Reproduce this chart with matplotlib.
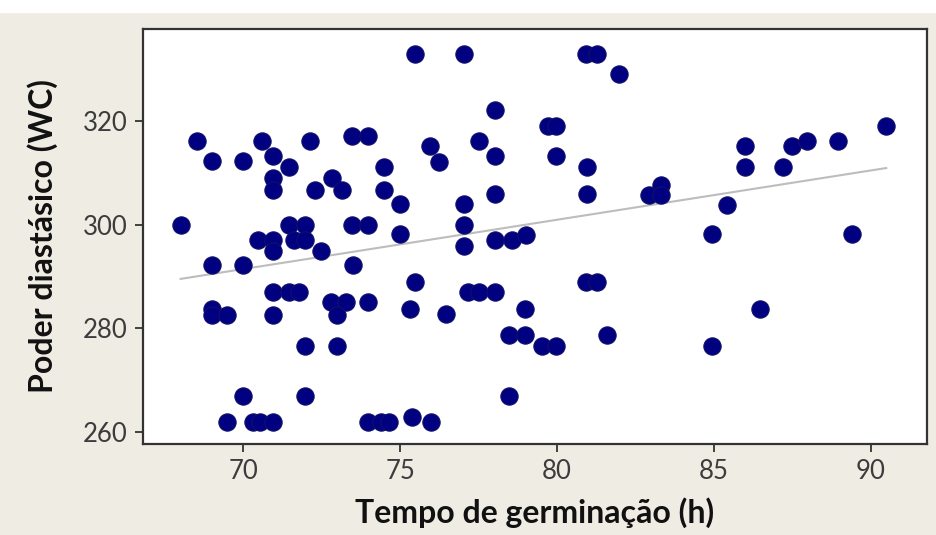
import matplotlib
matplotlib.use('Agg')
import matplotlib.pyplot as plt
import numpy as np

# Tempo de germinação (h) x Poder diastásico (WC)
tempo = [75.46, 77.03, 80.93, 81.28, 81.98, 78.02, 79.71, 79.97, 90.48,
         68.53, 70.58, 72.11, 73.48, 73.99, 75.94, 77.51, 86.0, 87.48, 87.96, 88.95,
         69.01, 70.0, 70.96, 71.47, 74.47, 76.25, 78.02, 79.97, 80.96, 86.0, 87.22,
         70.96, 70.96, 72.3, 72.84, 73.16, 74.47, 78.02, 80.96, 82.94, 83.32, 83.32,
         74.98, 77.03, 85.43,
         68.02, 71.47, 71.97, 73.48, 73.99, 77.03,
         74.98, 84.95, 89.42,
         70.48, 70.96, 71.6, 71.97, 77.03, 78.02, 78.56, 79.01,
         70.96, 72.49,
         69.01, 70.0, 73.51,
         75.46, 80.93, 81.28,
         70.96, 71.47, 71.76, 77.16, 77.51, 78.02,
         72.78, 73.26, 73.99, 73.0, 75.3, 69.01, 69.01, 69.49, 70.96, 76.45, 78.98, 86.49,
         78.47, 78.98, 81.6,
         71.97, 73.0, 79.52, 79.97, 84.95,
         70.0, 71.97, 78.47,
         69.49, 70.32, 70.54, 70.96, 73.99, 74.38, 74.63, 75.37, 75.97]
poder = [333, 333, 333, 333, 329.2, 322.2, 319.1, 319.1, 319.1,
         316.2, 316.2, 316.2, 317.2, 317.2, 315.2, 316.2, 315.2, 315.2, 316.2, 316.2,
         312.3, 312.3, 313.3, 311.2, 311.2, 312.2, 313.3, 313.3, 311.2, 311.2, 311.2,
         309.1, 306.8, 306.8, 309.1, 306.8, 306.8, 306.0, 306.0, 305.8, 307.7, 305.8,
         304.0, 304.0, 303.9,
         300.0, 300.0, 300.0, 300.0, 300.0, 300.0,
         298.3, 298.3, 298.3,
         297.0, 297.0, 297.0, 297.0, 295.9, 297.0, 297.0, 298.1,
         294.9, 295.0,
         292.3, 292.3, 292.3,
         289.0, 289.0, 289.0,
         287.1, 287.1, 287.1, 287.1, 287.1, 287.1,
         285.1, 285.1, 285.1, 282.6, 283.8, 283.8, 282.6, 282.6, 282.6, 282.7, 283.8, 283.8,
         278.8, 278.8, 278.8,
         276.6, 276.6, 276.6, 276.6, 276.6,
         267.0, 267.0, 267.0,
         262.0, 262.0, 262.0, 262.0, 262.0, 262.0, 262.0, 262.9, 262.0]

# reta de ajuste
intercepto = 224.9
inclinacao = 0.951
x_reta = [68.0, 90.5]

plt.rcParams['font.family'] = ['Lato', 'DejaVu Sans']

fig = plt.figure(figsize=(9.37, 5.35), dpi=100, facecolor='#efece4')
fig.add_artist(plt.Rectangle((0, 1 - 12 / 535), 1, 12 / 535,
                             transform=fig.transFigure, color='white', zorder=0))
ax = fig.add_axes([143 / 937, 91 / 535, (927 - 143) / 937, (444 - 29) / 535])
ax.set_facecolor('white')

xr = np.array(x_reta)
ax.plot(xr, intercepto + inclinacao * xr, color='#bdbdbd', lw=1.5, zorder=1)
ax.scatter(tempo, poder, s=155, color='#000080', edgecolors='#10106a',
           linewidths=0.8, zorder=2)

ax.set_xlim(66.8, 91.8)
ax.set_ylim(257.7, 337.8)
ax.set_xticks([70, 75, 80, 85, 90])
ax.set_yticks([260, 280, 300, 320])
ax.tick_params(direction='out', length=6, width=1.3, color='#333333',
               labelsize=18.5, labelcolor='#3c3c3c', pad=5)
for s in ax.spines.values():
    s.set_color('#333333')
    s.set_linewidth(1.6)

ax.set_xlabel('Tempo de germinação (h)', fontsize=23, fontweight='bold',
              color='#111111', labelpad=9)
ax.set_ylabel('Poder diastásico (WC)', fontsize=23, fontweight='bold',
              color='#111111', labelpad=18)

fig.savefig('out.png', dpi=100, facecolor=fig.get_facecolor())
